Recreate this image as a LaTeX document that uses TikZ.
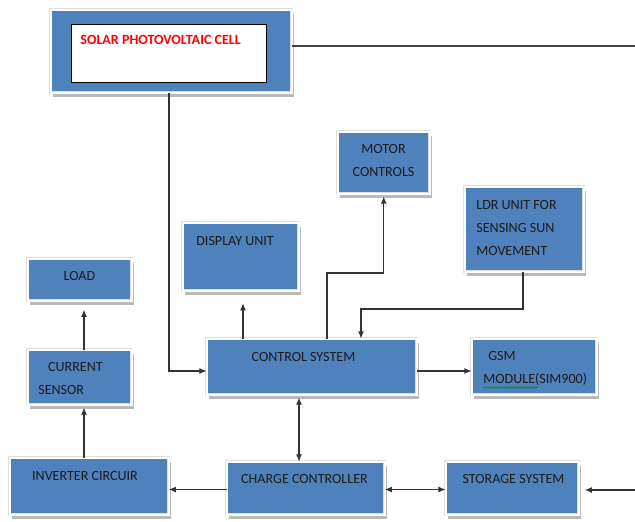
\documentclass[tikz,border=0pt]{standalone}
\usepackage{fontspec}
\setmainfont{Carlito}
\usetikzlibrary{arrows.meta,shadows,decorations.pathmorphing}
\definecolor{boxBlue}{HTML}{4F81BD}
\definecolor{textDark}{HTML}{1C1C1C}
\begin{document}
\begin{tikzpicture}
[x=0.02cm,y=-0.02cm,%
  boxDecorate/.style={shape=rectangle,anchor=north west,inner sep=0pt,
    fill=boxBlue,draw=black!13,double=white,double distance=1.2pt,line width=0.25pt,
    drop shadow={shadow xshift=1.2pt,shadow yshift=-2.2pt,fill=black!45,opacity=0.6}},
  textDecorate/.style={font=\fontsize{8}{13}\selectfont,text=textDark,inner sep=0pt},
  lineDecorate/.style={-{Latex[length=4pt,width=3.4pt]},line width=0.6pt,draw=black!80},
  bothDecorate/.style={lineDecorate,{Latex[length=4pt,width=3.4pt]}-{Latex[length=4pt,width=3.4pt]}},
  plainDecorate/.style={-,line width=0.6pt,draw=black!75}]
\useasboundingbox (0,0) rectangle (635,521);
%% blocks
\foreach \nodename/\x/\y/\w/\h in {
  solar/52/11/238/80, motor/339/133/89/59, display/184/224/113/65,
  ldr/466/188/116/82, load/29/260/101/39, control/208/340/207/53,
  gsm/473/340/122/53, sensor/29/351/101/52, inverter/11/459/156/54,
  charge/228/463/155/50, storage/447/463/130/50}
{
  \node (\nodename) at (\x-1.5,\y-1.5)
    [boxDecorate,minimum width=(\w+3)*0.02cm,minimum height=(\h+3)*0.02cm] {};
}
\node (solarPanel) at (71,24) [anchor=north west,fill=white,draw=black,line width=0.6pt,
  minimum width=195*0.02cm,minimum height=58*0.02cm,inner sep=0pt] {};
%% labels
\node (solarText) at (80,40) [textDecorate,anchor=west,text=red,font=\fontsize{8}{13}\selectfont\bfseries]
  {SOLAR PHOTOVOLTAIC CELL};
\node (motorText) at (383.5,160.5) [textDecorate,align=center] {MOTOR\\CONTROLS};
\node (displayText) at (196,241) [textDecorate,anchor=west] {DISPLAY UNIT};
\node (ldrText) at (476,228) [textDecorate,anchor=west,align=left]
  {LDR UNIT FOR\\SENSING SUN\\MOVEMENT};
\node (loadText) at (79.5,276) [textDecorate] {LOAD};
\node (sensorText) at (38,378.5) [textDecorate,anchor=west,align=left]
  {\hspace*{5.6pt}CURRENT\\SENSOR};
\node (controlText) at (303.5,357) [textDecorate] {CONTROL SYSTEM};
\node (gsmText) at (483,368.5) [textDecorate,anchor=west,align=left]
  {\hspace*{2.8pt}GSM\\MODULE(SIM900)};
\node (inverterText) at (85,476) [textDecorate] {INVERTER CIRCUIR};
\node (chargeText) at (304.5,479) [textDecorate] {CHARGE CONTROLLER};
\node (storageText) at (513.5,479) [textDecorate] {STORAGE SYSTEM};
\draw[green!55!black,line width=0.35pt,decorate,
  decoration={snake,amplitude=0.45pt,segment length=2pt}] (483,387.5) -- (538,387.5);
%% connectors
\coordinate (solarFeed) at (635,46);
\coordinate (storageFeed) at (635,490);
\coordinate (solarDrop) at (169,371);
\coordinate (motorBend) at (327,273);
\coordinate (ldrTap) at (523,309);
\coordinate (ldrBend) at (361,309);
\coordinate (dispTap) at (243,300);
\coordinate (sensorTap) at (84,330);
\coordinate (chargeTap) at (299,430);
\coordinate (busTap) at (200,489.5);
\draw[plainDecorate] (solar.east |- solarFeed) -- (solarFeed);
\draw[lineDecorate] (solar.south -| solarDrop) |- (control.west |- solarDrop);
\draw[lineDecorate] (control.east |- solarDrop) -- (gsm.west |- solarDrop);
\draw[lineDecorate,shorten >=7pt] (control.north -| dispTap) -- (display.south -| dispTap);
\draw[lineDecorate,shorten >=1.5pt] (control.north -| motorBend) |- (motor.south |- motorBend)
  -- (motor.south);
\draw[lineDecorate] (ldr.south -| ldrTap) -- (ldrTap) -- (ldrBend) -- (control.north -| ldrBend);
\draw[lineDecorate,shorten >=5pt] (sensor.north -| sensorTap) -- (load.south -| sensorTap);
\draw[lineDecorate,shorten >=1.5pt] (inverter.north -| sensorTap) -- (sensor.south -| sensorTap);
\draw[bothDecorate,shorten <=1.5pt] (control.south -| chargeTap) -- (charge.north -| chargeTap);
\draw[lineDecorate] (charge.west |- busTap) -- (inverter.east |- busTap);
\draw[bothDecorate] (charge.east |- busTap) -- (storage.west |- busTap);
\draw[lineDecorate,shorten >=3.4pt] (storageFeed) -- (storage.east |- storageFeed);
\end{tikzpicture}
\end{document}
